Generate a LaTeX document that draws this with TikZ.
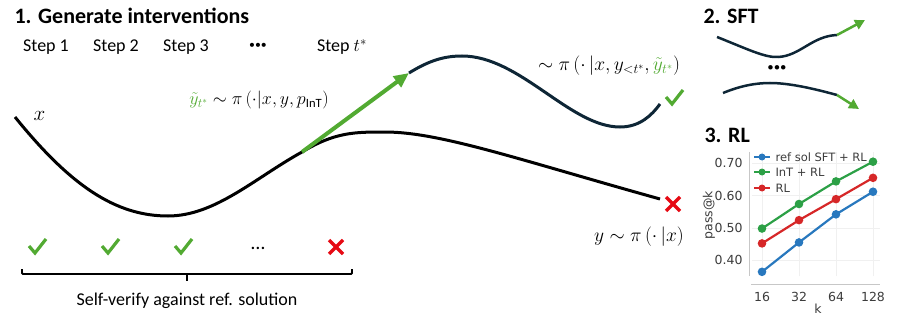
\RequirePackage{fix-cm}
\documentclass[tikz,border=0pt]{standalone}
\usepackage{fontspec}
\setmainfont{Carlito}
\newfontfamily\plotfont{DejaVu Sans}
\usepackage{mathtools}
\usepackage[dvipsnames]{xcolor}
\definecolor{mygreen}{RGB}{82,170,50}
\definecolor{myred}{RGB}{230,10,20}
\definecolor{mynavy}{RGB}{14,38,54}
\definecolor{plotblue}{RGB}{40,120,190}
\definecolor{plotgreen}{RGB}{44,160,70}
\definecolor{plotred}{RGB}{214,39,40}
\definecolor{plotgray}{RGB}{60,60,60}
\usepackage{tikz}
\usetikzlibrary{arrows.meta}

\newcommand{\drawcheck}[1]{\draw[mygreen, line width=3.2pt, shift={(#1)}] (-8,-1) -- (-2,6) -- (9,-8);}
\newcommand{\drawcross}[1]{\draw[myred, line width=3.4pt, shift={(#1)}] (-7,-7) -- (7,7) (-7,7) -- (7,-7);}

\begin{document}
\begin{tikzpicture}[x=1pt, y=-1pt, font=\fontsize{18}{20}\selectfont]
        \useasboundingbox (0,0) rectangle (897,321);

        \node[anchor=west, font=\fontsize{22}{24}\selectfont\bfseries] at (11,16) {1. Generate interventions};
        \node at (46,47) {Step 1};
        \node at (116,47) {Step 2};
        \node at (186,47) {Step 3};
        \node[font=\fontsize{22}{24}\selectfont\bfseries] at (258,47) {\textperiodcentered\textperiodcentered\textperiodcentered};
        \node at (342,47) {Step $t^*$};

        \coordinate (x0) at (15,117);
        \coordinate (xmin) at (168,216);
        \coordinate (xbranch) at (302,152);
        \coordinate (xpeak) at (385,132);
        \coordinate (xend) at (660,199);
        \draw[line width=3pt] (x0) .. controls (70,185) and (115,216) .. (xmin)
          .. controls (215,216) and (255,178) .. (xbranch)
          .. controls (335,132) and (355,132) .. (xpeak)
          .. controls (440,132) and (520,160) .. (xend);
        \node[anchor=south west, font=\fontsize{21}{22}\selectfont] at (30,124) {$x$};

        \coordinate (ystart) at (409,73);
        \coordinate (ypeak) at (462,56);
        \coordinate (ymin) at (620,127);
        \coordinate (yend) at (660,104);
        \draw[mynavy, line width=3pt] (ystart) .. controls (430,60) and (445,56) .. (ypeak)
          .. controls (520,56) and (570,127) .. (ymin)
          .. controls (640,127) and (652,115) .. (yend);
        \draw[mygreen, line width=4pt, -{Triangle[length=15pt,width=13pt]}] (xbranch) -- (ystart);

        \node[font=\fontsize{18}{20}\selectfont] at (259,100) {$\textcolor{mygreen}{\tilde{y}_{t^*}}\sim\pi\,(\cdot|x,y,p_{\mathrm{InT}})$};
        \node[font=\fontsize{19.5}{20}\selectfont] at (609,66) {$\sim\pi\,(\cdot\,|x,y_{<t^*},\textcolor{mygreen}{\tilde{y}_{t^*}})$};
        \node[font=\fontsize{19.5}{20}\selectfont] at (639,237) {$y\sim\pi\,(\cdot\,|x)$};

        \coordinate (ycheck) at (674,98);
        \coordinate (xcross) at (673,204);
        \drawcheck{ycheck}
        \drawcross{xcross}

        \coordinate (c1) at (37,247);
        \coordinate (c2) at (110,247);
        \coordinate (c3) at (183,247);
        \coordinate (c4) at (336,247);
        \drawcheck{c1}
        \drawcheck{c2}
        \drawcheck{c3}
        \node[font=\fontsize{20}{20}\selectfont] at (258,248) {\ldots};
        \drawcross{c4}

        \coordinate (bl) at (22,269);
        \coordinate (br) at (352,269);
        \coordinate (bmid) at (187,274);
        \draw[line width=1.8pt, rounded corners=1pt] (bl) -- (22,274) -- (352,274) -- (br);
        \draw[line width=1.8pt] (bmid) -- (187,281);
        \node at (187,301) {Self-verify against ref. solution};

        \node[anchor=west, font=\fontsize{22}{24}\selectfont\bfseries] at (700,16) {2. SFT};
        \coordinate (sa0) at (717,37);
        \coordinate (sa1) at (837,35);
        \coordinate (sa2) at (865,20);
        \draw[mynavy, line width=2.5pt] (sa0) .. controls (745,48) and (765,58) .. (778,57)
          .. controls (800,56) and (812,36) .. (sa1);
        \draw[mygreen, line width=2.5pt, -{Triangle[length=10pt,width=10pt]}] (sa1) -- (sa2);
        \node[font=\fontsize{24}{24}\selectfont\bfseries] at (777,70) {\textperiodcentered\textperiodcentered\textperiodcentered};
        \coordinate (sb0) at (723,93);
        \coordinate (sb1) at (837,95);
        \coordinate (sb2) at (859,109);
        \draw[mynavy, line width=2.5pt] (sb0) .. controls (740,86) and (755,83) .. (770,83)
          .. controls (790,83) and (815,89) .. (sb1);
        \draw[mygreen, line width=2.5pt, -{Triangle[length=10pt,width=10pt]}] (sb1) -- (sb2);

        \node[anchor=west, font=\fontsize{22}{24}\selectfont\bfseries] at (701,135) {3. RL};
        \begin{scope}[y=323pt, yshift=-389.4pt, font=\plotfont\fontsize{12.5}{14}\selectfont, text=plotgray]
          \foreach \v in {0.40,0.50,0.60,0.70} {
            \draw[black!6, line width=0.6pt] (752,\v) -- (880,\v);
            \node[anchor=east] at (746,\v) {\v};
          }
          \foreach \k in {762,799,836,873} {
            \draw[black!6, line width=0.6pt] (\k,0.35) -- (\k,0.735);
          }
          \draw[black!22, line width=1pt] (749,0.735) -- (749,0.35);
          \draw[plotblue, line width=2.2pt] (762,0.364) -- (799,0.455) -- (836,0.542) -- (873,0.612);
          \draw[plotgreen, line width=2.2pt] (762,0.498) -- (799,0.574) -- (836,0.644) -- (873,0.705);
          \draw[plotred, line width=2.2pt] (762,0.452) -- (799,0.524) -- (836,0.589) -- (873,0.655);
          \foreach \k/\b/\g/\r in {762/0.364/0.498/0.452, 799/0.455/0.574/0.524, 836/0.542/0.644/0.589, 873/0.612/0.705/0.655} {
            \fill[plotblue] (\k,\b) circle [radius=4.3pt];
            \fill[plotgreen] (\k,\g) circle [radius=4.3pt];
            \fill[plotred] (\k,\r) circle [radius=4.3pt];
          }
        \end{scope}
        \draw[black!22, line width=1pt] (751,284) -- (880,284);
        \begin{scope}[font=\plotfont\fontsize{12.5}{14}\selectfont, text=plotgray]
          \node at (762,297) {16};
          \node at (799,297) {32};
          \node at (836,297) {64};
          \node at (873,297) {128};
          \node at (818,309) {k};
          \node[rotate=90] at (709,215) {pass@k};
        \end{scope}
        \begin{scope}[font=\plotfont\fontsize{11.5}{13}\selectfont, text=plotgray]
          \draw[plotblue, line width=2.2pt] (754,157) -- (770,157);
          \fill[plotblue] (762,157) circle [radius=3.5pt];
          \node[anchor=west] at (772,157) {ref sol SFT + RL};
          \draw[plotgreen, line width=2.2pt] (754,172) -- (770,172);
          \fill[plotgreen] (762,172) circle [radius=3.5pt];
          \node[anchor=west] at (772,172) {InT + RL};
          \draw[plotred, line width=2.2pt] (754,188) -- (770,188);
          \fill[plotred] (762,188) circle [radius=3.5pt];
          \node[anchor=west] at (772,188) {RL};
        \end{scope}
      \end{tikzpicture}
\end{document}
